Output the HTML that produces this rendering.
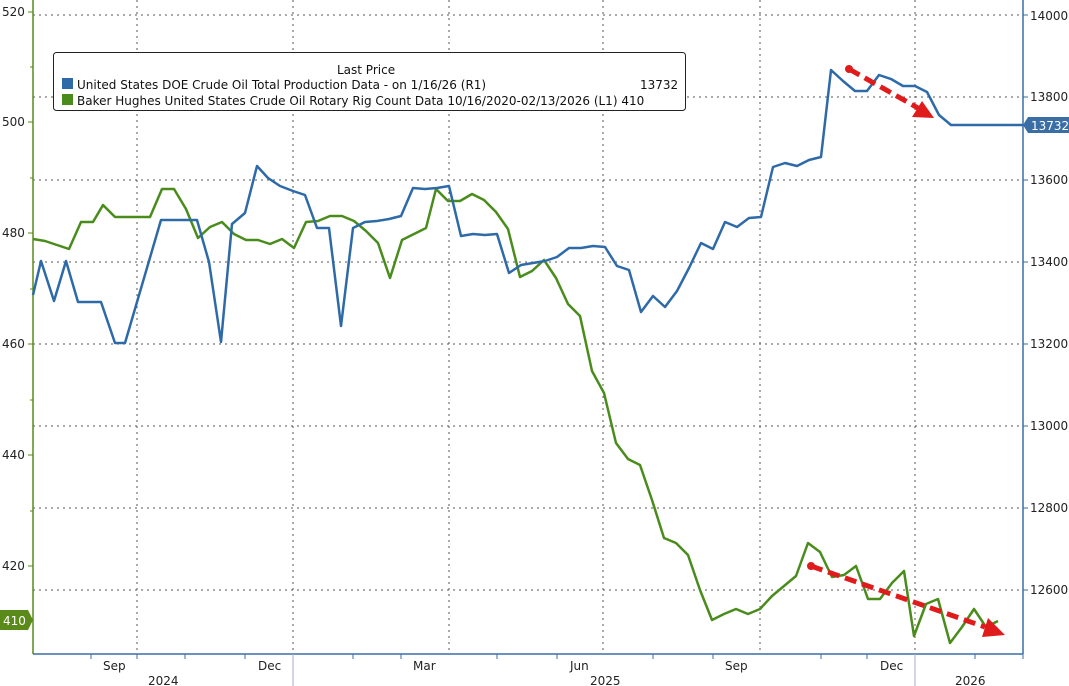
<!DOCTYPE html>
<html><head><style>
html,body{margin:0;padding:0;background:#fff;}
svg{display:block;font-family:"DejaVu Sans","Liberation Sans",sans-serif;}
</style></head><body>
<svg width="1069" height="686" viewBox="0 0 1069 686" xmlns="http://www.w3.org/2000/svg">
<rect width="1069" height="686" fill="#fff"/>
<g stroke="#555" stroke-width="1" stroke-dasharray="2,4">
<line x1="33" y1="15" x2="1023" y2="15"/>
<line x1="33" y1="97" x2="1023" y2="97"/>
<line x1="33" y1="180" x2="1023" y2="180"/>
<line x1="33" y1="262" x2="1023" y2="262"/>
<line x1="33" y1="344" x2="1023" y2="344"/>
<line x1="33" y1="426" x2="1023" y2="426"/>
<line x1="33" y1="508" x2="1023" y2="508"/>
<line x1="33" y1="590" x2="1023" y2="590"/>
<line x1="137" y1="0" x2="137" y2="654"/>
<line x1="293" y1="0" x2="293" y2="654"/>
<line x1="449" y1="0" x2="449" y2="654"/>
<line x1="603" y1="0" x2="603" y2="654"/>
<line x1="760" y1="0" x2="760" y2="654"/>
<line x1="915" y1="0" x2="915" y2="654"/>
</g>
<line x1="33" y1="0" x2="33" y2="654" stroke="#5a8a1a" stroke-width="1.5"/>
<line x1="1023" y1="0" x2="1023" y2="654" stroke="#3a6ea5" stroke-width="1.5"/>
<line x1="33" y1="654" x2="1023" y2="654" stroke="#3a6ea5" stroke-width="1.5"/>
<g stroke="#5a8a1a" stroke-width="1">
<line x1="28" y1="12" x2="33" y2="12"/><line x1="28" y1="122" x2="33" y2="122"/><line x1="28" y1="233" x2="33" y2="233"/>
<line x1="28" y1="344" x2="33" y2="344"/><line x1="28" y1="455" x2="33" y2="455"/><line x1="28" y1="566" x2="33" y2="566"/>
<line x1="30" y1="67" x2="33" y2="67"/><line x1="30" y1="178" x2="33" y2="178"/><line x1="30" y1="289" x2="33" y2="289"/>
<line x1="30" y1="400" x2="33" y2="400"/><line x1="30" y1="511" x2="33" y2="511"/>
</g>
<g stroke="#3a6ea5" stroke-width="1">
<line x1="1023" y1="15" x2="1028" y2="15"/><line x1="1023" y1="97" x2="1028" y2="97"/><line x1="1023" y1="180" x2="1028" y2="180"/>
<line x1="1023" y1="262" x2="1028" y2="262"/><line x1="1023" y1="344" x2="1028" y2="344"/><line x1="1023" y1="426" x2="1028" y2="426"/>
<line x1="1023" y1="508" x2="1028" y2="508"/><line x1="1023" y1="590" x2="1028" y2="590"/>
<line x1="91" y1="654" x2="91" y2="659"/><line x1="137" y1="654" x2="137" y2="659"/><line x1="185" y1="654" x2="185" y2="659"/>
<line x1="245" y1="654" x2="245" y2="659"/><line x1="353" y1="654" x2="353" y2="659"/><line x1="401" y1="654" x2="401" y2="659"/>
<line x1="497" y1="654" x2="497" y2="659"/><line x1="557" y1="654" x2="557" y2="659"/><line x1="653" y1="654" x2="653" y2="659"/>
<line x1="713" y1="654" x2="713" y2="659"/><line x1="821" y1="654" x2="821" y2="659"/><line x1="867" y1="654" x2="867" y2="659"/>
<line x1="975" y1="654" x2="975" y2="659"/><line x1="1023" y1="654" x2="1023" y2="659"/>
</g>
<line x1="293" y1="654" x2="293" y2="686" stroke="#aac" stroke-width="1"/>
<line x1="915" y1="654" x2="915" y2="686" stroke="#aac" stroke-width="1"/>
<g font-size="12" fill="#222">
<text x="2" y="16">520</text><text x="2" y="126">500</text><text x="2" y="237">480</text>
<text x="2" y="348">460</text><text x="2" y="459">440</text><text x="2" y="570">420</text>
<text x="1030" y="20">14000</text><text x="1030" y="101">13800</text><text x="1030" y="184">13600</text>
<text x="1030" y="266">13400</text><text x="1030" y="348">13200</text><text x="1030" y="430">13000</text>
<text x="1030" y="512">12800</text><text x="1030" y="594">12600</text>
<text x="103" y="670">Sep</text><text x="258" y="670">Dec</text><text x="413" y="670">Mar</text>
<text x="570" y="670">Jun</text><text x="725" y="670">Sep</text><text x="880" y="670">Dec</text>
<text x="148" y="685">2024</text><text x="590" y="685">2025</text><text x="955" y="685">2026</text>
</g>
<path d="M0,610 H28 L33,620 L28,630 H0 Z" fill="#5a8a1a"/>
<text x="3" y="625" font-size="12" fill="#fff">410</text>
<path d="M1023,125 L1028,117 H1069 V133 H1028 Z" fill="#3a6ea5"/>
<text x="1031" y="130" font-size="12" fill="#fff">13732</text>
<polyline fill="none" stroke="#4a8c1c" stroke-width="2.5" stroke-linejoin="round" points="33,239 45,241 57,245 69,249 81,222 93,222 103,205 115,217 150,217 162,189 174,189 186,209 198,238 210,227 222,222 234,234 246,240 258,240 270,244 282,239 294,248 306,222 318,221 330,216 342,216 354,221 366,231 378,243 390,278 402,240 414,234 426,228 436,189 448,201 460,201 472,194 484,200 496,212 508,229 520,277 532,271 544,260 556,278 568,304 580,316 592,371 604,393 616,443 628,459 640,465 652,500 664,538 676,543 688,555 700,590 712,620 724,614 736,609 748,614 760,609 772,596 784,586 796,576 808,543 820,552 832,577 844,575 856,566 868,599 880,599 892,583 904,571 914,636 926,604 938,599 950,643 962,627 974,609 986,627 998,621"/>
<polyline fill="none" stroke="#2e6aa8" stroke-width="2.5" stroke-linejoin="round" points="33,295 41,261 54,301 66,261 78,302 101,302 115,343 125,343 161,220 185,220 197,220 209,262 221,342 232,224 245,213 257,166 268,178 280,186 293,191 305,195 317,228 329,228 341,326 353,228 365,222 377,221 389,219 401,216 413,188 425,189 437,188 449,186 461,236 473,234 485,235 497,234 509,273 521,265 533,263 545,261 557,257 569,248 581,248 593,246 605,247 617,266 629,270 641,312 653,296 665,307 677,291 689,268 701,243 713,249 725,222 737,227 749,218 761,217 773,167 785,163 797,166 809,160 821,157 831,70 843,81 855,91 867,91 879,75 891,79 903,86 915,86 927,92 939,115 951,125 1023,125"/>
<g stroke="#e01b1b" stroke-width="5" stroke-dasharray="12,6" fill="none">
<line x1="849" y1="69" x2="918" y2="108"/>
<line x1="811" y1="566" x2="985" y2="627"/>
</g>
<circle cx="849" cy="69" r="4" fill="#e01b1b"/>
<circle cx="811" cy="566" r="4" fill="#e01b1b"/>
<polygon points="934,118 912,117 922,101" fill="#e01b1b"/>
<polygon points="1005,635 982,637 988,618" fill="#e01b1b"/>
<rect x="53.5" y="52.5" width="632" height="58" rx="3" fill="#fff" stroke="#222"/>
<g font-size="12" fill="#111">
<text x="337" y="74">Last Price</text>
<rect x="62" y="78" width="11" height="11" fill="#2e6aa8"/>
<text x="77" y="89">United States DOE Crude Oil Total Production Data -  on 1/16/26  (R1)</text>
<text x="640" y="89">13732</text>
<rect x="62" y="94" width="11" height="11" fill="#4a8c1c"/>
<text x="77" y="105">Baker Hughes United States Crude Oil Rotary Rig Count Data 10/16/2020-02/13/2026  (L1) 410</text>
</g>
</svg>
</body></html>
